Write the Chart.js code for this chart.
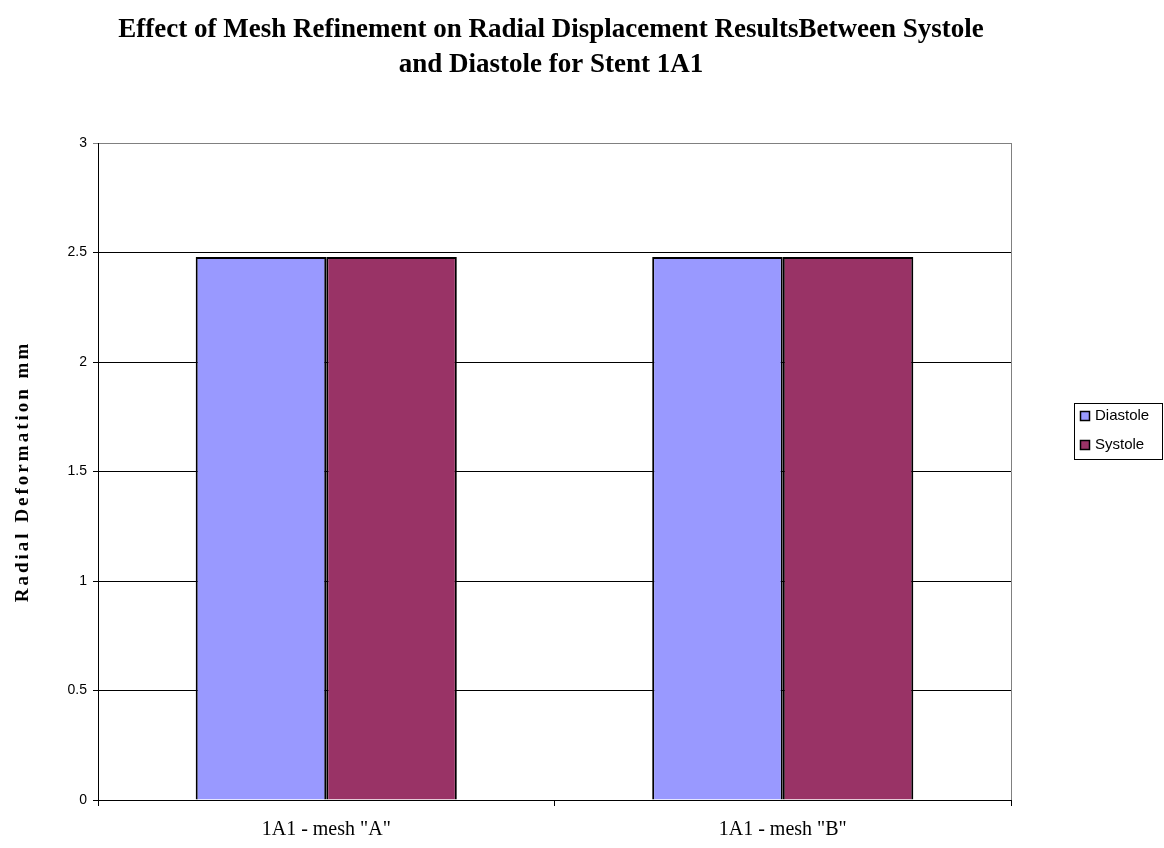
<!DOCTYPE html>
<html>
<head>
<meta charset="utf-8">
<script src="https://cdn.jsdelivr.net/npm/chart.js@4"></script>
<style>
  html, body { margin: 0; padding: 0; background: #fff; }
  canvas { display: block; }
</style>
</head>
<body>
<canvas id="c" width="1164" height="848"></canvas>
<script>
// Chart data
const categories = ['1A1 - mesh "A"', '1A1 - mesh "B"'];
const diastole = [2.48, 2.48];
const systole = [2.48, 2.48];
const seriesNames = ['Diastole', 'Systole'];
const seriesColors = ['#9999FF', '#993366'];
const yTicks = [0, 0.5, 1, 1.5, 2, 2.5, 3];
const titleLines = ['Effect of Mesh Refinement on Radial Displacement ResultsBetween Systole', 'and Diastole for Stent 1A1'];
const yAxisTitle = 'Radial Deformation mm';

// Title, axis title, frame and boxed legend
const decorations = {
  id: 'decorations',
  afterDraw(chart) {
    const ctx = chart.ctx;
    const area = chart.chartArea;
    ctx.save();

    // right frame of the plot area
    ctx.strokeStyle = '#808080';
    ctx.lineWidth = 1;
    ctx.beginPath();
    ctx.moveTo(area.right + 0.5, area.top);
    ctx.lineTo(area.right + 0.5, area.bottom);
    ctx.stroke();

    // chart title
    ctx.fillStyle = '#000';
    ctx.font = 'bold 27px "Liberation Serif", "Times New Roman", serif';
    ctx.textAlign = 'center';
    ctx.textBaseline = 'middle';
    ctx.fillText(titleLines[0], 551, 30);
    ctx.fillText(titleLines[1], 551, 65);

    // y axis title
    ctx.save();
    ctx.translate(23, (area.top + area.bottom) / 2);
    ctx.rotate(-Math.PI / 2);
    ctx.font = 'bold 19px "Liberation Serif", "Times New Roman", serif';
    ctx.letterSpacing = '3px';
    ctx.fillText(yAxisTitle, 0, 0);
    ctx.restore();

    // legend box
    const lx = 1074, ly = 403, lw = 88, lh = 56;
    ctx.strokeStyle = '#000';
    ctx.lineWidth = 1;
    ctx.strokeRect(lx + 0.5, ly + 0.5, lw, lh);
    ctx.font = '15px "Liberation Sans", Arial, sans-serif';
    ctx.textAlign = 'left';
    ctx.textBaseline = 'middle';
    chart.data.datasets.forEach((ds, i) => {
      const cy = ly + 13 + i * 29;
      ctx.fillStyle = ds.backgroundColor;
      ctx.fillRect(lx + 6, cy - 5, 10, 10);
      ctx.strokeStyle = '#000';
      ctx.lineWidth = 1.5;
      ctx.strokeRect(lx + 6.5, cy - 4.5, 9, 9);
      ctx.fillStyle = '#000';
      ctx.fillText(ds.label, lx + 21, cy);
    });
    ctx.restore();
  }
};

new Chart(document.getElementById('c'), {
  type: 'bar',
  data: {
    labels: categories,
    datasets: [
      { label: seriesNames[0], data: diastole, backgroundColor: seriesColors[0], borderColor: '#000', borderWidth: 2 },
      { label: seriesNames[1], data: systole, backgroundColor: seriesColors[1], borderColor: '#000', borderWidth: 2 }
    ]
  },
  options: {
    responsive: false,
    animation: false,
    devicePixelRatio: 1,
    layout: { padding: { left: 0, right: 153, top: 143, bottom: 0 } },
    datasets: { bar: { categoryPercentage: 0.572, barPercentage: 1.0 } },
    plugins: {
      legend: { display: false },
      title: { display: false },
      tooltip: { enabled: false }
    },
    scales: {
      x: {
        grid: { display: true, drawOnChartArea: false, offset: true, color: '#000', tickLength: 6 },
        border: { display: true, color: '#000', width: 1 },
        ticks: {
          color: '#000',
          padding: 12,
          font: { family: '"Liberation Serif", "Times New Roman", serif', size: 20 }
        },
        afterFit(s) { s.height = 48; }
      },
      y: {
        min: yTicks[0],
        max: yTicks[yTicks.length - 1],
        afterBuildTicks(s) { s.ticks = yTicks.map(v => ({ value: v })); },
        ticks: {
          color: '#000',
          padding: 6,
          font: { family: '"Liberation Sans", Arial, sans-serif', size: 14 },
          callback: (v) => String(v)
        },
        grid: {
          color: (c) => c.tick && c.tick.value === 3 ? '#808080' : '#000',
          lineWidth: 1,
          tickLength: 5
        },
        border: { display: true, color: '#000', width: 1 },
        afterFit(s) { s.width = 98; }
      }
    }
  },
  plugins: [decorations]
});
</script>
</body>
</html>
